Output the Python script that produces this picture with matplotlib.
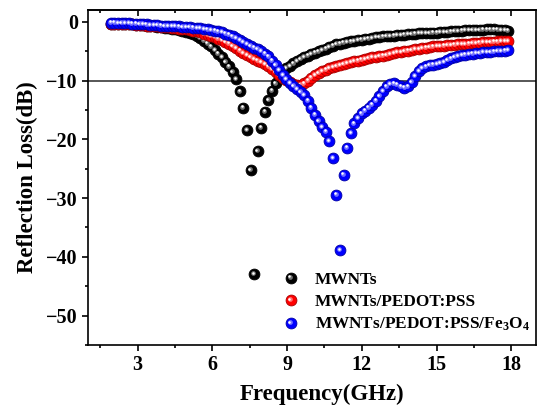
import numpy as np
import matplotlib
matplotlib.use("Agg")
import matplotlib.pyplot as plt
from matplotlib.lines import Line2D
from matplotlib.legend_handler import HandlerTuple, HandlerLine2D
from matplotlib.transforms import offset_copy, Affine2D
from matplotlib.ticker import MultipleLocator
import matplotlib.colors as mcolors

plt.rcParams['font.family'] = ['Liberation Serif', 'DejaVu Serif']
plt.rcParams['font.weight'] = 'bold'
plt.rcParams['mathtext.fontset'] = 'custom'
plt.rcParams['mathtext.rm'] = 'Liberation Serif:bold'
plt.rcParams['mathtext.default'] = 'rm'

# frequency grid (GHz)
freq = np.linspace(1.93, 17.88, 112)

mwnts = [
    -0.3, -0.3, -0.35, -0.35, -0.4, -0.4, -0.45, -0.5, -0.55, -0.6,
    -0.65, -0.7, -0.8, -0.85, -0.9, -1.0, -1.1, -1.2, -1.3, -1.4,
    -1.55, -1.7, -1.9, -2.15, -2.45, -2.8, -3.2, -3.7, -4.2, -4.8,
    -5.4, -6.0, -6.8, -7.6, -8.5, -9.8, -11.85, -14.6, -18.4, -25.2,
    -42.9, -22.0, -18.0, -15.3, -13.3, -11.7, -10.5, -9.4, -8.5, -7.9,
    -7.5, -7.1, -6.7, -6.3, -6.0, -5.75, -5.5, -5.25, -5.05, -4.8,
    -4.55, -4.3, -4.05, -3.85, -3.7, -3.55, -3.45, -3.35, -3.25, -3.15,
    -3.05, -2.95, -2.85, -2.75, -2.65, -2.6, -2.5, -2.45, -2.4, -2.35,
    -2.3, -2.25, -2.2, -2.1, -2.05, -2.0, -1.95, -1.95, -1.9, -1.88,
    -1.85, -1.83, -1.8, -1.75, -1.7, -1.65, -1.6, -1.55, -1.5, -1.45,
    -1.42, -1.4, -1.38, -1.35, -1.33, -1.3, -1.3, -1.3, -1.32, -1.35,
    -1.4, -1.5,
]

mwnts_pedot = [
    -0.3, -0.3, -0.35, -0.35, -0.4, -0.4, -0.45, -0.5, -0.55, -0.6,
    -0.65, -0.7, -0.75, -0.8, -0.85, -0.9, -0.95, -1.0, -1.1, -1.15,
    -1.2, -1.3, -1.4, -1.5, -1.65, -1.8, -2.0, -2.2, -2.4, -2.6,
    -2.85, -3.1, -3.4, -3.7, -4.1, -4.5, -4.9, -5.3, -5.7, -6.0,
    -6.3, -6.6, -6.9, -7.2, -7.6, -8.0, -8.5, -9.0, -9.5, -9.9,
    -10.3, -10.6, -10.75, -10.75, -10.5, -10.0, -9.5, -9.1, -8.7, -8.4,
    -8.15, -7.9, -7.7, -7.5, -7.35, -7.2, -7.05, -6.85, -6.7, -6.6,
    -6.45, -6.3, -6.15, -6.05, -5.95, -5.85, -5.75, -5.65, -5.5, -5.35,
    -5.2, -5.1, -5.0, -4.9, -4.8, -4.7, -4.6, -4.5, -4.4, -4.3,
    -4.2, -4.15, -4.1, -4.05, -4.0, -3.95, -3.9, -3.85, -3.8, -3.75,
    -3.7, -3.65, -3.6, -3.55, -3.5, -3.45, -3.4, -3.38, -3.35, -3.33,
    -3.3, -3.3,
]

mwnts_pedot_fe3o4 = [
    -0.15, -0.15, -0.2, -0.2, -0.25, -0.25, -0.3, -0.3, -0.35, -0.4,
    -0.45, -0.5, -0.55, -0.6, -0.65, -0.7, -0.72, -0.75, -0.78, -0.8,
    -0.85, -0.9, -0.95, -1.0, -1.05, -1.1, -1.2, -1.3, -1.4, -1.5,
    -1.65, -1.8, -2.0, -2.2, -2.5, -2.8, -3.1, -3.4, -3.75, -4.1,
    -4.4, -4.7, -5.0, -5.4, -5.9, -6.6, -7.4, -8.2, -9.1, -9.8,
    -10.4, -10.9, -11.4, -11.9, -12.5, -13.4, -14.6, -15.8, -16.9, -17.9,
    -18.7, -20.3, -23.2, -29.4, -38.8, -26.0, -21.4, -18.9, -17.3, -16.4,
    -15.6, -15.1, -14.6, -14.1, -13.4, -12.6, -11.8, -11.0, -10.6, -10.5,
    -10.7, -11.0, -11.2, -11.0, -10.3, -9.2, -8.4, -7.9, -7.6, -7.4,
    -7.3, -7.2, -7.05, -6.85, -6.55, -6.25, -6.0, -5.85, -5.7, -5.6,
    -5.5, -5.42, -5.35, -5.28, -5.2, -5.15, -5.1, -5.05, -5.0, -4.95,
    -4.9, -4.85,
]

labels = ['MWNTs', 'MWNTs/PEDOT:PSS', r'MWNTs/PEDOT:PSS/Fe$_3$O$_4$']
colors = ['#000000', '#ff0000', '#0000ff']
series = [mwnts, mwnts_pedot, mwnts_pedot_fe3o4]

fig = plt.figure(figsize=(5.38, 4.07), dpi=100)
ax = fig.add_axes([0.163, 0.1523, 0.8337, 0.8231])

ax.axhline(-10, color='#3a3a3a', lw=1.2, zorder=1)

def lighten(c, f):
    r = np.array(mcolors.to_rgb(c))
    return tuple(r + (1 - r) * f)

def darken(c, f):
    r = np.array(mcolors.to_rgb(c))
    return tuple(r * (1 - f))


class OffsetHandler(HandlerLine2D):
    def __init__(self, dx, dy, **kw):
        super().__init__(**kw)
        self.dx = dx
        self.dy = dy

    def create_artists(self, legend, orig_handle, xdescent, ydescent, width,
                       height, fontsize, trans):
        arts = super().create_artists(legend, orig_handle, xdescent, ydescent,
                                      width, height, fontsize, trans)
        t = trans + Affine2D().translate(self.dx, self.dy)
        for a in arts:
            a.set_transform(t)
        return arts


MS = 7.8
handles = []
hmap = {tuple: HandlerTuple(ndivide=1)}
for i, (vals, col) in enumerate(zip(series, colors)):
    z = 2 + i * 3
    base_ec = darken(col, 0.35) if col != '#000000' else '#000000'
    ax.plot(freq, vals, ls='none', marker='o', ms=MS, mfc=col, mec=base_ec,
            mew=0.6, zorder=z)
    mid = lighten(col, 0.45)
    t1 = offset_copy(ax.transData, fig=fig, x=-0.9, y=0.9, units='dots')
    ax.plot(freq, vals, ls='none', marker='o', ms=3.4, mfc=mid, mec='none',
            transform=t1, zorder=z + 1)
    t2 = offset_copy(ax.transData, fig=fig, x=-1.2, y=1.2, units='dots')
    ax.plot(freq, vals, ls='none', marker='o', ms=1.8, mfc='white', mec='none',
            transform=t2, zorder=z + 2)
    hb = Line2D([], [], ls='none', marker='o', ms=MS, mfc=col, mec=base_ec, mew=0.6)
    hm = Line2D([], [], ls='none', marker='o', ms=3.4, mfc=mid, mec='none')
    hw = Line2D([], [], ls='none', marker='o', ms=1.8, mfc='white', mec='none')
    hmap[hm] = OffsetHandler(-0.9, 0.9)
    hmap[hw] = OffsetHandler(-1.2, 1.2)
    handles.append((hb, hm, hw))

ax.set_xlim(1, 19)
ax.set_ylim(-55, 2)
ax.xaxis.set_major_locator(MultipleLocator(3))
ax.xaxis.set_minor_locator(MultipleLocator(1.5))
ax.yaxis.set_major_locator(MultipleLocator(10))
ax.yaxis.set_minor_locator(MultipleLocator(5))

for s in ax.spines.values():
    s.set_linewidth(1.2)

ax.tick_params(axis='both', which='major', direction='out', length=4, width=1.2,
               labelsize=14.5, pad=3)
ax.tick_params(axis='both', which='minor', direction='out', length=2.5, width=1.2)

# top axis ticks pointing inward
top = ax.secondary_xaxis('top')
top.xaxis.set_major_locator(MultipleLocator(3))
top.xaxis.set_minor_locator(MultipleLocator(1.5))
top.tick_params(which='major', direction='in', length=4, width=1.2, labeltop=False)
top.tick_params(which='minor', direction='in', length=2.5, width=1.2)
top.spines['top'].set_linewidth(1.2)

ax.set_xlabel('Frequency(GHz)', fontsize=16.5, fontweight='bold', labelpad=4)
ax.set_ylabel('Reflection Loss(dB)', fontsize=16.5, fontweight='bold', labelpad=6)
ax.xaxis.set_label_coords(0.5215, -0.115)

leg = ax.legend(handles, labels, handler_map=hmap,
                loc='upper left', bbox_to_anchor=(0.418, 0.24), frameon=False,
                prop={'family': 'Liberation Serif', 'weight': 'bold', 'size': 12.4},
                handlelength=1.0, handletextpad=0.9, labelspacing=0.36,
                borderpad=0.4, borderaxespad=0)

fig.savefig('out.png', dpi=100)
